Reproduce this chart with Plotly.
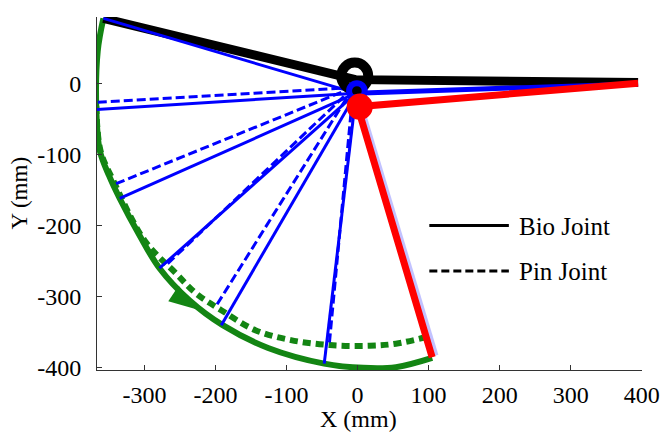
import plotly.graph_objects as go

# ---------------- data (mm) ----------------
shoulder = (395, 0)

# elbow positions for each pose family
black_elbow = (-3, 5)
blue_elbow = (-2, -14)
pin_elbow = (-6, -6)
red_elbow = (0, -33)

# hand-tip trajectory, bio joint (solid green)
bio_traj_x = [-358, -366, -368, -363, -350, -335, -307, -279, -237, -190, -126, -47, 8, 54, 105]
bio_traj_y = [91, 45, -36, -95, -130, -162, -214, -260, -305, -340, -372, -394, -400, -399, -386]

# hand-tip trajectory, pin joint (dashed green)
pin_traj_x = [-368, -362, -344, -300, -256, -228, -192, -144, -94, -39, 17, 54, 96]
pin_traj_y = [-32, -95, -137, -221, -267, -295, -319, -347, -361, -368, -369, -366, -357]

# intermediate forearm poses (blue)
bio_tip_x = [-358, -369, -335, -279, -192, -47]
bio_tip_y = [91, -37, -162, -260, -340, -394]
pin_tip_x = [-367, -342, -270, -200, -40]
pin_tip_y = [-27, -142, -256, -314, -368]

# initial (black) and final (red) poses
black_tip = (-358, 91)
red_tip = (105, -385)

# direction arrow on trajectory
arrow_x = [-226]
arrow_y = [-318]

x_ticks = [-300, -200, -100, 0, 100, 200, 300, 400]
y_ticks = [0, -100, -200, -300, -400]

FONT = "Liberation Serif"

fig = go.Figure()

# green trajectories
fig.add_trace(go.Scatter(x=bio_traj_x, y=bio_traj_y, mode="lines",
                         line=dict(color="#138513", width=6, shape="spline"),
                         showlegend=False, hoverinfo="skip"))
fig.add_trace(go.Scatter(x=pin_traj_x, y=pin_traj_y, mode="lines",
                         line=dict(color="#138513", width=6, dash="8px,5px", shape="spline"),
                         showlegend=False, hoverinfo="skip"))
fig.add_trace(go.Scatter(x=arrow_x, y=arrow_y, mode="markers",
                         marker=dict(symbol="arrow", angle=124, size=30, color="#138513",
                                     line=dict(width=0)),
                         showlegend=False, hoverinfo="skip"))

# black initial pose
fig.add_trace(go.Scatter(x=[shoulder[0], black_elbow[0], black_tip[0]],
                         y=[shoulder[1] + 1, black_elbow[1], black_tip[1]],
                         mode="lines", line=dict(color="black", width=9),
                         showlegend=False, hoverinfo="skip"))

# blue upper arm
fig.add_trace(go.Scatter(x=[shoulder[0], blue_elbow[0]], y=[shoulder[1] - 1, blue_elbow[1]],
                         mode="lines", line=dict(color="blue", width=5),
                         showlegend=False, hoverinfo="skip"))

# blue solid (bio) forearm poses
bx, by = [], []
for tx, ty in zip(bio_tip_x, bio_tip_y):
    bx += [blue_elbow[0], tx, None]
    by += [blue_elbow[1], ty, None]
fig.add_trace(go.Scatter(x=bx, y=by, mode="lines", line=dict(color="blue", width=3),
                         showlegend=False, hoverinfo="skip"))

# blue dashed (pin) forearm poses
px_, py_ = [], []
for tx, ty in zip(pin_tip_x, pin_tip_y):
    px_ += [pin_elbow[0], tx, None]
    py_ += [pin_elbow[1], ty, None]
fig.add_trace(go.Scatter(x=px_, y=py_, mode="lines",
                         line=dict(color="blue", width=3, dash="9px,4px"),
                         showlegend=False, hoverinfo="skip"))

# faint blue under final pose
fig.add_trace(go.Scatter(x=[blue_elbow[0], red_tip[0] + 4], y=[blue_elbow[1], red_tip[1] + 2],
                         mode="lines", line=dict(color="rgba(80,80,255,0.35)", width=7),
                         showlegend=False, hoverinfo="skip"))

# red final pose
fig.add_trace(go.Scatter(x=[shoulder[0], red_elbow[0], red_tip[0]],
                         y=[shoulder[1], red_elbow[1], red_tip[1]],
                         mode="lines", line=dict(color="red", width=7),
                         showlegend=False, hoverinfo="skip"))

# joint circles
fig.add_shape(type="circle", xref="x", yref="y", x0=-4 - 19, x1=-4 + 19, y0=10 - 19, y1=10 + 19,
              line=dict(color="black", width=10))
fig.add_shape(type="circle", xref="x", yref="y", x0=-1 - 11, x1=-1 + 11, y0=-11 - 11, y1=-11 + 11,
              line=dict(color="blue", width=6))
fig.add_shape(type="circle", xref="x", yref="y", x0=3 - 17, x1=3 + 17, y0=-33 - 17, y1=-33 + 17,
              line=dict(color="red", width=2), fillcolor="red")

# legend (manual)
fig.add_shape(type="line", xref="x", yref="y", x0=101, x1=213, y0=-200, y1=-200,
              line=dict(color="black", width=3))
fig.add_shape(type="line", xref="x", yref="y", x0=101, x1=213, y0=-264, y1=-264,
              line=dict(color="black", width=3, dash="8px,4px"))
fig.add_annotation(x=224, y=-202, xref="x", yref="y", text="Bio Joint", showarrow=False,
                   xanchor="left", yanchor="middle", font=dict(family=FONT, size=25, color="black"))
fig.add_annotation(x=224, y=-265, xref="x", yref="y", text="Pin Joint", showarrow=False,
                   xanchor="left", yanchor="middle", font=dict(family=FONT, size=25, color="black"))

# axis titles
fig.add_annotation(x=0.48, y=-0.095, xref="paper", yref="paper", text="X (mm)", showarrow=False,
                   xanchor="center", yanchor="top", font=dict(family=FONT, size=24, color="black"))
fig.add_annotation(x=-0.143, y=0.50, xref="paper", yref="paper", text="Y (mm)", showarrow=False,
                   textangle=-90, xanchor="center", yanchor="middle",
                   font=dict(family=FONT, size=23, color="black"))

fig.update_layout(
    width=662, height=442,
    margin=dict(l=97, r=20, t=17, b=72, autoexpand=False),
    paper_bgcolor="white", plot_bgcolor="white",
    showlegend=False,
    font=dict(family=FONT, size=24, color="black"),
)
fig.update_xaxes(range=[-367, 400.5], tickvals=x_ticks, ticktext=[str(v) for v in x_ticks],
                 automargin=False,
                 showgrid=False, zeroline=False, showline=True, linecolor="#333", linewidth=1,
                 ticks="inside", ticklen=5, tickcolor="#333", ticklabelstandoff=3,
                 ticklabeloverflow="allow",
                 tickfont=dict(family=FONT, size=24, color="black"))
fig.update_yaxes(range=[-403, 93], tickvals=y_ticks, ticktext=[str(v) for v in y_ticks],
                 automargin=False,
                 showgrid=False, zeroline=False, showline=True, linecolor="#333", linewidth=1,
                 ticks="inside", ticklen=5, tickcolor="#333", ticklabelstandoff=10,
                 tickfont=dict(family=FONT, size=24, color="black"))

fig.write_html("out.html")
